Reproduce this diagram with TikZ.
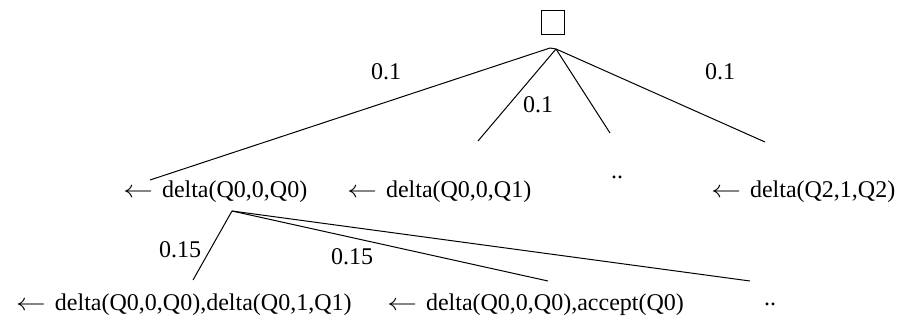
\documentclass[tikz,border=0pt]{standalone}
\usepackage{fontspec}
\setmainfont{Liberation Serif}
\newcommand{\larr}{\scalebox{1.25}[1]{$\leftarrow$}\hspace{4.5pt}}
\begin{document}
\begin{tikzpicture}[x=0.5pt,y=-0.5pt,
  every node/.style={inner sep=0pt,outer sep=0pt,font=\fontsize{12}{14}\selectfont},
  lbl/.style={anchor=base west},
  prob/.style={anchor=center},
  dots/.style={anchor=base},
  edge/.style={line width=0.5pt}]
\useasboundingbox (0,0) rectangle (901,321);
% root box
\node[draw,line width=0.5pt,minimum width=11.5pt,minimum height=12pt] (root) at (552.5,22) {};
% tree apex points
\coordinate (apexA) at (550,48);
\coordinate (apexB) at (556,49);
\coordinate (endA) at (150,180);
\coordinate (endB) at (478,141);
\coordinate (endC) at (610,133);
\coordinate (endD) at (765,142);
\draw[edge] (apexA) -- (endA);
\draw[edge] (apexA) -- (apexB);
\draw[edge] (apexB) -- (endB);
\draw[edge] (apexB) -- (endC);
\draw[edge] (apexB) -- (endD);
\node[prob] (p1) at (386,72) {0.1};
\node[prob] (p2) at (538,105) {0.1};
\node[prob] (p3) at (720,72) {0.1};
% level 2
\node[lbl] (n1) at (123,197) {\larr delta(Q0,0,Q0)};
\node[lbl] (n2) at (347,197) {\larr delta(Q0,0,Q1)};
\node[dots] (n3) at (617,178) {..};
\node[lbl] (n4) at (711,197) {\larr delta(Q2,1,Q2)};
% level 2 branches
\coordinate (apex2) at (232,211);
\coordinate (endE) at (193,280);
\coordinate (endF) at (548,281);
\coordinate (endG) at (750,281);
\draw[edge] (apex2) -- (endE);
\draw[edge] (apex2) -- (endF);
\draw[edge] (apex2) -- (endG);
\node[prob] (q1) at (180,250) {0.15};
\node[prob] (q2) at (352,257) {0.15};
% bottom
\node[lbl] (m1) at (16,310) {\larr delta(Q0,0,Q0),delta(Q0,1,Q1)};
\node[lbl] (m2) at (387,310) {\larr delta(Q0,0,Q0),accept(Q0)};
\node[dots] (m3) at (770,305) {..};
\end{tikzpicture}
\end{document}
